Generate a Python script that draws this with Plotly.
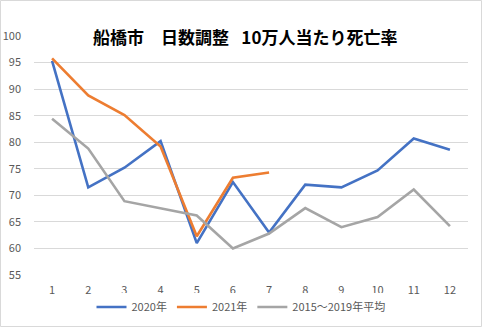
import plotly.graph_objects as go

months = [1, 2, 3, 4, 5, 6, 7, 8, 9, 10, 11, 12]
month_labels = [str(m) for m in months]
y2020 = [95.3, 71.5, 75.2, 80.2, 61.0, 72.5, 63.0, 72.0, 71.5, 74.7, 80.7, 78.6]
y2021 = [95.8, 88.8, 85.1, 79.2, 62.3, 73.3, 74.3]
yavg = [84.4, 78.8, 68.9, 67.5, 66.2, 60.0, 62.8, 67.6, 64.0, 65.9, 71.1, 64.2]
names = ["2020年", "2021年", "2015～2019年平均"]
colors = ["#4472C4", "#ED7D31", "#A5A5A5"]
title = "船橋市　日数調整\u2002 10万人当たり死亡率"

W, H = 482, 327
L, R, T, B = 34, 14, 36, 52
pw, ph = W - L - R, H - T - B

fig = go.Figure()
for name, ys, c in zip(names, [y2020, y2021, yavg], colors):
    fig.add_trace(go.Scatter(
        x=month_labels[:len(ys)], y=ys, name=name, mode="lines",
        line=dict(color=c, width=2.6), cliponaxis=False))

font = "Noto Sans CJK JP, Noto Sans, sans-serif"
fig.update_layout(
    width=W, height=H,
    margin=dict(l=L, r=R, t=T, b=B, autoexpand=False),
    plot_bgcolor="white", paper_bgcolor="white",
    font=dict(family=font, size=11, color="#595959"),
    showlegend=True,
    legend=dict(orientation="h", xref="container", yref="container",
                x=0.5, xanchor="center", y=1 - 307 / H, yanchor="middle",
                font=dict(size=11, color="#595959"), itemwidth=30,
                tracegroupgap=0),
    xaxis=dict(type="category", showgrid=False, zeroline=False,
               showline=False, ticks="", range=[-0.5, 11.5],
               categoryorder="array", categoryarray=month_labels,
               ticklabelstandoff=7, automargin=False),
    yaxis=dict(range=[55, 100], dtick=5, showgrid=True, gridcolor="#D9D9D9",
               gridwidth=1, zeroline=False, showline=False, ticks="",
               ticklabelstandoff=12, automargin=False),
    annotations=[dict(text="<b>" + title + "</b>", xref="paper", yref="paper",
                      x=(245 - L) / pw, y=(H - B - 37) / ph,
                      xanchor="center", yanchor="middle", showarrow=False,
                      bgcolor="white",
                      font=dict(family=font, size=17, color="#000000"))],
    shapes=[dict(type="rect", xref="paper", yref="paper",
                 x0=(0.5 - L) / pw, x1=(W - 0.5 - L) / pw,
                 y0=(H - B - (H - 0.5)) / ph, y1=(H - B - 0.5) / ph,
                 line=dict(color="#D9D9D9", width=1), layer="below")],
)

fig.write_html("out.html")
